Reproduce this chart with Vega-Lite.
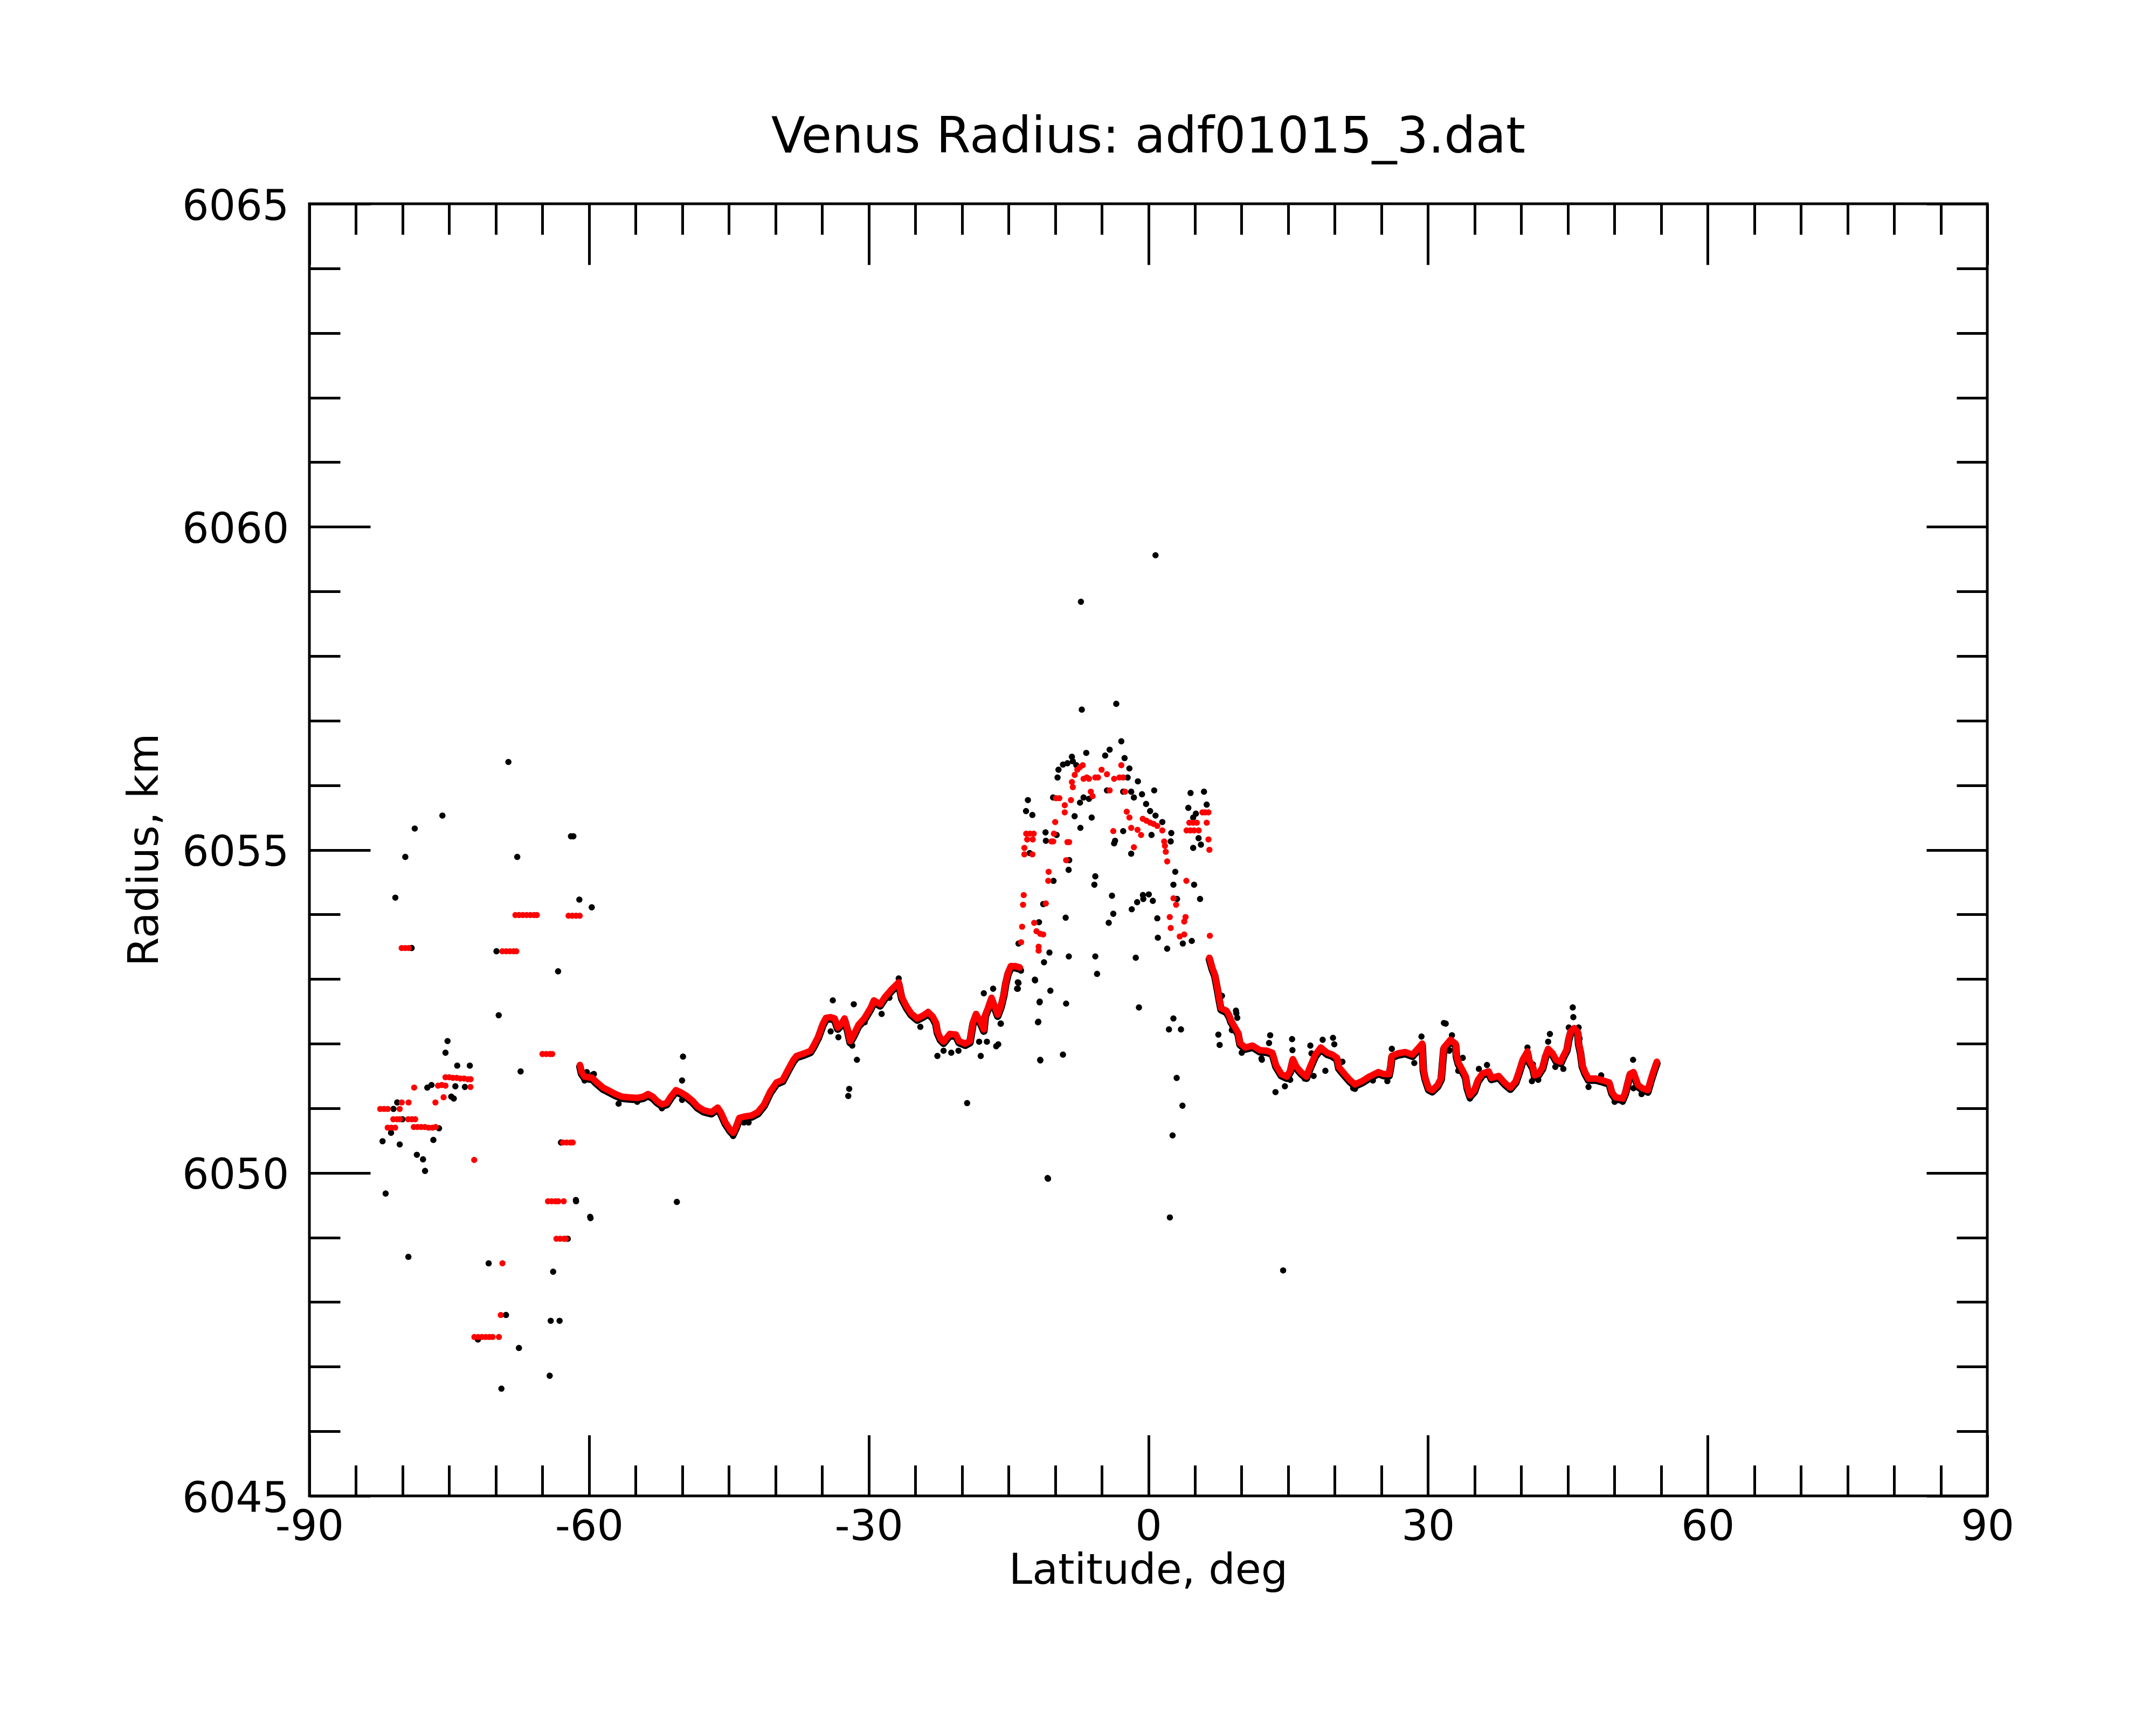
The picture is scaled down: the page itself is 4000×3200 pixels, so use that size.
{
  "$schema": "https://vega.github.io/schema/vega-lite/v6.json",
  "autosize": "none",
  "width": 3113,
  "height": 2397,
  "padding": {"left": 574, "top": 378, "right": 313, "bottom": 425},
  "background": "white",
  "title": {
    "text": "Venus Radius: adf01015_3.dat",
    "font": "DejaVu Sans",
    "fontSize": 92,
    "fontWeight": "normal",
    "color": "black",
    "anchor": "middle",
    "frame": "group",
    "baseline": "alphabetic",
    "offset": -30
  },
  "datasets": {
    "raw": [
      {"lat": -68.65, "r": 6056.36}, {"lat": -75.73, "r": 6055.53}, {"lat": -78.70, "r": 6055.33},
      {"lat": -79.71, "r": 6054.89}, {"lat": -67.70, "r": 6054.89}, {"lat": -80.78, "r": 6054.26},
      {"lat": -61.68, "r": 6055.21}, {"lat": -61.94, "r": 6055.21}, {"lat": -61.04, "r": 6054.23},
      {"lat": -59.71, "r": 6054.11}, {"lat": -79.03, "r": 6053.48}, {"lat": -63.32, "r": 6053.12},
      {"lat": -69.69, "r": 6052.44}, {"lat": -75.18, "r": 6052.04}, {"lat": -75.40, "r": 6051.86},
      {"lat": -74.14, "r": 6051.66}, {"lat": -72.79, "r": 6051.66}, {"lat": -67.34, "r": 6051.57},
      {"lat": -77.35, "r": 6051.32}, {"lat": -76.90, "r": 6051.36}, {"lat": -74.34, "r": 6051.34},
      {"lat": -73.32, "r": 6051.33}, {"lat": -74.78, "r": 6051.18}, {"lat": -74.51, "r": 6051.15},
      {"lat": -80.58, "r": 6051.09}, {"lat": -80.98, "r": 6050.99}, {"lat": -80.02, "r": 6050.83},
      {"lat": -81.24, "r": 6050.62}, {"lat": -82.15, "r": 6050.49}, {"lat": -80.31, "r": 6050.44},
      {"lat": -76.09, "r": 6050.69}, {"lat": -76.70, "r": 6050.51}, {"lat": -78.47, "r": 6050.28},
      {"lat": -77.81, "r": 6050.21}, {"lat": -77.59, "r": 6050.03}, {"lat": -81.82, "r": 6049.68},
      {"lat": -61.39, "r": 6049.56}, {"lat": -59.84, "r": 6049.30}, {"lat": -62.28, "r": 6048.98},
      {"lat": -79.38, "r": 6048.70}, {"lat": -70.77, "r": 6048.60}, {"lat": -63.85, "r": 6048.47},
      {"lat": -68.91, "r": 6047.80}, {"lat": -64.11, "r": 6047.71}, {"lat": -63.16, "r": 6047.71},
      {"lat": -71.92, "r": 6047.42}, {"lat": -67.52, "r": 6047.29}, {"lat": -64.22, "r": 6046.86},
      {"lat": -69.40, "r": 6046.66}, {"lat": -63.01, "r": 6050.47}, {"lat": -69.93, "r": 6053.43},
      {"lat": -60.24, "r": 6051.56}, {"lat": -59.62, "r": 6051.52}, {"lat": -60.44, "r": 6051.44},
      {"lat": -49.92, "r": 6051.80}, {"lat": -50.02, "r": 6051.43}, {"lat": -33.85, "r": 6052.67},
      {"lat": -31.60, "r": 6052.61}, {"lat": -34.08, "r": 6052.19}, {"lat": -33.25, "r": 6052.10},
      {"lat": -31.76, "r": 6051.97}, {"lat": -31.26, "r": 6051.75}, {"lat": -32.09, "r": 6051.30},
      {"lat": -32.19, "r": 6051.19}, {"lat": -28.61, "r": 6052.46}, {"lat": -27.78, "r": 6052.71},
      {"lat": -24.46, "r": 6052.26}, {"lat": -22.63, "r": 6051.81}, {"lat": -21.97, "r": 6051.89},
      {"lat": -21.14, "r": 6051.86}, {"lat": -20.37, "r": 6051.89}, {"lat": -19.44, "r": 6051.08},
      {"lat": -17.98, "r": 6051.81}, {"lat": -18.15, "r": 6052.03}, {"lat": -17.32, "r": 6052.03},
      {"lat": -16.32, "r": 6051.96}, {"lat": -17.65, "r": 6052.78}, {"lat": -16.65, "r": 6052.85},
      {"lat": -15.82, "r": 6052.31}, {"lat": -14.00, "r": 6052.85}, {"lat": -14.00, "r": 6052.95},
      {"lat": -12.17, "r": 6052.99}, {"lat": -11.67, "r": 6052.64}, {"lat": -11.84, "r": 6052.33},
      {"lat": -11.60, "r": 6051.75}, {"lat": -10.81, "r": 6049.92}, {"lat": -50.58, "r": 6049.55},
      {"lat": -61.41, "r": 6049.58}, {"lat": -59.88, "r": 6049.32},
      {"lat": -56.83, "r": 6051.07}, {"lat": -54.83, "r": 6051.10}, {"lat": -52.18, "r": 6051.00},
      {"lat": -50.02, "r": 6051.13}, {"lat": -47.36, "r": 6050.92}, {"lat": -42.88, "r": 6050.78},
      {"lat": -43.38, "r": 6050.78}, {"lat": -60.48, "r": 6051.43}, {"lat": -59.48, "r": 6051.53},
      {"lat": -44.54, "r": 6050.57}, {"lat": -30.43, "r": 6052.33}, {"lat": -26.78, "r": 6053.01},
      {"lat": 0.77, "r": 6059.56}, {"lat": -7.23, "r": 6058.84}, {"lat": -7.14, "r": 6057.17},
      {"lat": -3.44, "r": 6057.26}, {"lat": -2.90, "r": 6056.68}, {"lat": -4.15, "r": 6056.55},
      {"lat": -4.63, "r": 6056.46}, {"lat": -6.66, "r": 6056.50}, {"lat": -8.20, "r": 6056.44},
      {"lat": -8.10, "r": 6056.37}, {"lat": -9.16, "r": 6056.32}, {"lat": -8.68, "r": 6056.34},
      {"lat": -9.64, "r": 6056.24}, {"lat": -9.74, "r": 6056.12}, {"lat": -7.72, "r": 6056.31},
      {"lat": -2.55, "r": 6056.42}, {"lat": -2.03, "r": 6056.26}, {"lat": -2.22, "r": 6056.12},
      {"lat": -1.12, "r": 6056.06}, {"lat": 0.63, "r": 6055.92}, {"lat": -12.92, "r": 6055.77},
      {"lat": -13.12, "r": 6055.60}, {"lat": -12.44, "r": 6055.54}, {"lat": -10.22, "r": 6055.81},
      {"lat": -7.33, "r": 6055.73}, {"lat": -7.91, "r": 6055.52}, {"lat": -7.29, "r": 6055.34},
      {"lat": -6.08, "r": 6055.50}, {"lat": -6.37, "r": 6055.79}, {"lat": -6.95, "r": 6055.81},
      {"lat": -4.44, "r": 6055.92}, {"lat": -2.70, "r": 6055.90}, {"lat": -1.84, "r": 6055.90},
      {"lat": -1.55, "r": 6055.81}, {"lat": -0.68, "r": 6055.86}, {"lat": -0.24, "r": 6055.71},
      {"lat": 0.19, "r": 6055.60}, {"lat": 0.77, "r": 6055.53}, {"lat": 1.50, "r": 6055.43},
      {"lat": 2.46, "r": 6055.26}, {"lat": 2.40, "r": 6055.13}, {"lat": 0.34, "r": 6055.23},
      {"lat": -2.70, "r": 6055.29}, {"lat": -3.57, "r": 6055.14}, {"lat": -3.67, "r": 6055.10},
      {"lat": -1.84, "r": 6054.94}, {"lat": -11.03, "r": 6055.27}, {"lat": -10.99, "r": 6055.14},
      {"lat": -9.84, "r": 6055.23}, {"lat": -12.73, "r": 6054.95}, {"lat": -8.49, "r": 6054.84},
      {"lat": -8.55, "r": 6054.69}, {"lat": -10.17, "r": 6054.52}, {"lat": -11.28, "r": 6054.16},
      {"lat": -11.73, "r": 6053.88}, {"lat": -13.93, "r": 6053.55}, {"lat": -14.08, "r": 6052.85},
      {"lat": -13.93, "r": 6052.94}, {"lat": -13.66, "r": 6053.13}, {"lat": -12.15, "r": 6052.98},
      {"lat": -11.19, "r": 6053.26}, {"lat": -10.61, "r": 6053.41}, {"lat": -11.65, "r": 6052.65},
      {"lat": -10.51, "r": 6052.82}, {"lat": -11.80, "r": 6052.34}, {"lat": -11.59, "r": 6051.74},
      {"lat": -9.16, "r": 6051.83}, {"lat": -8.82, "r": 6052.62}, {"lat": -8.87, "r": 6053.95},
      {"lat": -8.53, "r": 6053.35}, {"lat": -5.69, "r": 6054.59}, {"lat": -5.79, "r": 6054.46},
      {"lat": -5.69, "r": 6053.35}, {"lat": -5.50, "r": 6053.08}, {"lat": -3.90, "r": 6054.29},
      {"lat": -3.76, "r": 6054.01}, {"lat": -4.25, "r": 6053.87}, {"lat": -1.78, "r": 6054.08},
      {"lat": -1.20, "r": 6054.19}, {"lat": -0.58, "r": 6054.30}, {"lat": -0.54, "r": 6054.24},
      {"lat": 0.05, "r": 6054.31}, {"lat": 0.48, "r": 6054.21}, {"lat": -1.35, "r": 6053.33},
      {"lat": -1.01, "r": 6052.56}, {"lat": 0.96, "r": 6053.94}, {"lat": 1.02, "r": 6053.64},
      {"lat": 2.02, "r": 6053.47}, {"lat": 2.89, "r": 6054.66}, {"lat": 2.69, "r": 6054.46},
      {"lat": 3.08, "r": 6054.24}, {"lat": 3.70, "r": 6053.55}, {"lat": 4.66, "r": 6053.59},
      {"lat": 4.91, "r": 6054.46}, {"lat": 5.55, "r": 6054.24}, {"lat": 4.53, "r": 6055.88},
      {"lat": 4.29, "r": 6055.65}, {"lat": 5.97, "r": 6055.90}, {"lat": 6.26, "r": 6055.70},
      {"lat": 5.10, "r": 6055.56}, {"lat": 4.81, "r": 6055.50}, {"lat": 5.39, "r": 6055.18},
      {"lat": 5.64, "r": 6055.08}, {"lat": 4.81, "r": 6055.03}, {"lat": 2.69, "r": 6052.39},
      {"lat": 2.21, "r": 6052.22}, {"lat": 3.50, "r": 6052.22}, {"lat": 3.04, "r": 6051.47},
      {"lat": 3.66, "r": 6051.04}, {"lat": 2.60, "r": 6050.58}, {"lat": 2.31, "r": 6049.31},
      {"lat": -10.76, "r": 6049.91}, {"lat": -15.85, "r": 6052.31}, {"lat": -16.10, "r": 6051.99},
      {"lat": 7.51, "r": 6052.14}, {"lat": 7.65, "r": 6051.98}, {"lat": 9.44, "r": 6052.47},
      {"lat": 8.96, "r": 6052.21}, {"lat": 7.90, "r": 6052.74}, {"lat": 12.14, "r": 6051.77},
      {"lat": 10.02, "r": 6051.86}, {"lat": 9.40, "r": 6052.51}, {"lat": 9.54, "r": 6052.40},
      {"lat": 13.07, "r": 6052.13}, {"lat": 12.95, "r": 6052.01}, {"lat": 12.18, "r": 6051.75},
      {"lat": 15.42, "r": 6052.07}, {"lat": 15.46, "r": 6051.90}, {"lat": 13.64, "r": 6051.25},
      {"lat": 14.65, "r": 6051.34}, {"lat": 17.38, "r": 6051.97}, {"lat": 17.50, "r": 6051.85},
      {"lat": 17.73, "r": 6051.50}, {"lat": 18.70, "r": 6052.06}, {"lat": 19.81, "r": 6052.09},
      {"lat": 19.95, "r": 6051.99}, {"lat": 18.99, "r": 6051.58}, {"lat": 20.82, "r": 6051.72},
      {"lat": 29.30, "r": 6052.11}, {"lat": 31.71, "r": 6052.32}, {"lat": 32.29, "r": 6051.90},
      {"lat": 28.53, "r": 6051.70}, {"lat": 25.64, "r": 6051.42}, {"lat": 21.97, "r": 6051.31},
      {"lat": 26.12, "r": 6051.92}, {"lat": 15.22, "r": 6051.44}, {"lat": 16.77, "r": 6051.46},
      {"lat": 22.17, "r": 6051.30}, {"lat": 24.09, "r": 6051.43}, {"lat": 14.46, "r": 6048.49},
      {"lat": 31.90, "r": 6052.31}, {"lat": 32.57, "r": 6052.13}, {"lat": 32.28, "r": 6051.89},
      {"lat": 33.73, "r": 6051.78}, {"lat": 33.25, "r": 6051.58}, {"lat": 35.46, "r": 6051.61},
      {"lat": 36.33, "r": 6051.67}, {"lat": 40.67, "r": 6051.94}, {"lat": 41.25, "r": 6051.68},
      {"lat": 41.15, "r": 6051.42}, {"lat": 41.83, "r": 6051.44}, {"lat": 43.08, "r": 6052.15},
      {"lat": 42.89, "r": 6052.03}, {"lat": 43.66, "r": 6051.64}, {"lat": 44.52, "r": 6051.61},
      {"lat": 45.53, "r": 6052.56}, {"lat": 45.59, "r": 6052.41}, {"lat": 45.10, "r": 6052.25},
      {"lat": 46.16, "r": 6052.25}, {"lat": 46.26, "r": 6052.08}, {"lat": 47.22, "r": 6051.33},
      {"lat": 48.58, "r": 6051.51}, {"lat": 52.00, "r": 6051.75}, {"lat": 52.04, "r": 6051.31},
      {"lat": 52.91, "r": 6051.22}, {"lat": 53.60, "r": 6051.24}, {"lat": 50.02, "r": 6051.10},
      {"lat": 50.89, "r": 6051.10}, {"lat": 34.50, "r": 6051.15}
    ],
    "fit": [
      {"lat": -67.9, "r": 6053.99, "seg": "s"}, {"lat": -67.5, "r": 6053.99, "seg": "s"}, {"lat": -67.1, "r": 6053.99, "seg": "s"},
      {"lat": -66.7, "r": 6053.99, "seg": "s"}, {"lat": -66.3, "r": 6053.99, "seg": "s"}, {"lat": -65.9, "r": 6053.99, "seg": "s"},
      {"lat": -65.6, "r": 6053.99, "seg": "s"},
      {"lat": -62.2, "r": 6053.98, "seg": "s"}, {"lat": -61.8, "r": 6053.98, "seg": "s"}, {"lat": -61.4, "r": 6053.98, "seg": "s"},
      {"lat": -61.0, "r": 6053.98, "seg": "s"},
      {"lat": -69.3, "r": 6053.43, "seg": "s"}, {"lat": -68.9, "r": 6053.43, "seg": "s"}, {"lat": -68.5, "r": 6053.43, "seg": "s"},
      {"lat": -68.1, "r": 6053.43, "seg": "s"}, {"lat": -67.8, "r": 6053.43, "seg": "s"},
      {"lat": -80.1, "r": 6053.48, "seg": "s"}, {"lat": -79.7, "r": 6053.48, "seg": "s"}, {"lat": -79.35, "r": 6053.48, "seg": "s"},
      {"lat": -65.0, "r": 6051.84, "seg": "s"}, {"lat": -64.6, "r": 6051.84, "seg": "s"}, {"lat": -64.2, "r": 6051.84, "seg": "s"},
      {"lat": -63.95, "r": 6051.84, "seg": "s"},
      {"lat": -78.76, "r": 6051.32, "seg": "s"},
      {"lat": -75.4, "r": 6051.48, "seg": "s"}, {"lat": -75.0, "r": 6051.48, "seg": "s"}, {"lat": -74.6, "r": 6051.47, "seg": "s"},
      {"lat": -74.2, "r": 6051.47, "seg": "s"}, {"lat": -73.8, "r": 6051.46, "seg": "s"}, {"lat": -73.4, "r": 6051.46, "seg": "s"},
      {"lat": -73.0, "r": 6051.45, "seg": "s"}, {"lat": -72.7, "r": 6051.45, "seg": "s"},
      {"lat": -76.2, "r": 6051.35, "seg": "s"}, {"lat": -75.8, "r": 6051.36, "seg": "s"}, {"lat": -75.4, "r": 6051.35, "seg": "s"},
      {"lat": -75.6, "r": 6051.17, "seg": "s"}, {"lat": -76.48, "r": 6051.09, "seg": "s"}, {"lat": -72.72, "r": 6051.33, "seg": "s"},
      {"lat": -80.09, "r": 6051.09, "seg": "s"}, {"lat": -79.36, "r": 6051.09, "seg": "s"},
      {"lat": -82.4, "r": 6050.99, "seg": "s"}, {"lat": -82.0, "r": 6050.99, "seg": "s"}, {"lat": -81.6, "r": 6050.99, "seg": "s"},
      {"lat": -80.31, "r": 6050.99, "seg": "s"},
      {"lat": -81.0, "r": 6050.83, "seg": "s"}, {"lat": -80.6, "r": 6050.83, "seg": "s"}, {"lat": -80.3, "r": 6050.83, "seg": "s"},
      {"lat": -79.4, "r": 6050.83, "seg": "s"}, {"lat": -79.0, "r": 6050.83, "seg": "s"}, {"lat": -78.65, "r": 6050.83, "seg": "s"},
      {"lat": -81.6, "r": 6050.70, "seg": "s"}, {"lat": -81.2, "r": 6050.70, "seg": "s"}, {"lat": -80.8, "r": 6050.70, "seg": "s"},
      {"lat": -78.8, "r": 6050.71, "seg": "s"}, {"lat": -78.4, "r": 6050.71, "seg": "s"}, {"lat": -78.0, "r": 6050.71, "seg": "s"},
      {"lat": -77.6, "r": 6050.71, "seg": "s"}, {"lat": -77.2, "r": 6050.70, "seg": "s"}, {"lat": -76.8, "r": 6050.70, "seg": "s"},
      {"lat": -76.45, "r": 6050.71, "seg": "s"},
      {"lat": -72.32, "r": 6050.20, "seg": "s"},
      {"lat": -64.4, "r": 6049.56, "seg": "s"}, {"lat": -64.0, "r": 6049.56, "seg": "s"}, {"lat": -63.6, "r": 6049.56, "seg": "s"},
      {"lat": -63.3, "r": 6049.56, "seg": "s"}, {"lat": -62.72, "r": 6049.56, "seg": "s"},
      {"lat": -63.5, "r": 6048.98, "seg": "s"}, {"lat": -63.1, "r": 6048.98, "seg": "s"}, {"lat": -62.7, "r": 6048.98, "seg": "s"},
      {"lat": -62.5, "r": 6048.98, "seg": "s"},
      {"lat": -69.29, "r": 6048.60, "seg": "s"}, {"lat": -69.47, "r": 6047.80, "seg": "s"},
      {"lat": -72.3, "r": 6047.46, "seg": "s"}, {"lat": -71.9, "r": 6047.46, "seg": "s"}, {"lat": -71.5, "r": 6047.46, "seg": "s"},
      {"lat": -71.1, "r": 6047.46, "seg": "s"}, {"lat": -70.7, "r": 6047.46, "seg": "s"}, {"lat": -70.35, "r": 6047.46, "seg": "s"},
      {"lat": -69.67, "r": 6047.46, "seg": "s"},
      {"lat": -62.8, "r": 6050.47, "seg": "s"}, {"lat": -62.4, "r": 6050.47, "seg": "s"}, {"lat": -62.0, "r": 6050.47, "seg": "s"},
      {"lat": -61.75, "r": 6050.47, "seg": "s"},

      {"lat": -60.98, "r": 6051.67, "seg": "A"}, {"lat": -60.81, "r": 6051.56, "seg": "A"}, {"lat": -60.48, "r": 6051.49, "seg": "A"},
      {"lat": -59.65, "r": 6051.47, "seg": "A"}, {"lat": -59.15, "r": 6051.40, "seg": "A"}, {"lat": -58.49, "r": 6051.32, "seg": "A"},
      {"lat": -57.82, "r": 6051.27, "seg": "A"}, {"lat": -57.16, "r": 6051.22, "seg": "A"}, {"lat": -56.49, "r": 6051.18, "seg": "A"},
      {"lat": -55.83, "r": 6051.17, "seg": "A"}, {"lat": -54.83, "r": 6051.16, "seg": "A"}, {"lat": -54.17, "r": 6051.18, "seg": "A"},
      {"lat": -53.67, "r": 6051.22, "seg": "A"}, {"lat": -53.17, "r": 6051.18, "seg": "A"}, {"lat": -52.68, "r": 6051.11, "seg": "A"},
      {"lat": -52.18, "r": 6051.06, "seg": "A"}, {"lat": -51.68, "r": 6051.08, "seg": "A"}, {"lat": -51.18, "r": 6051.19, "seg": "A"},
      {"lat": -50.68, "r": 6051.28, "seg": "A"}, {"lat": -50.19, "r": 6051.25, "seg": "A"}, {"lat": -49.52, "r": 6051.19, "seg": "A"},
      {"lat": -48.86, "r": 6051.11, "seg": "A"}, {"lat": -48.36, "r": 6051.03, "seg": "A"}, {"lat": -47.70, "r": 6050.97, "seg": "A"},
      {"lat": -46.87, "r": 6050.94, "seg": "A"}, {"lat": -46.20, "r": 6051.01, "seg": "A"}, {"lat": -45.87, "r": 6050.94, "seg": "A"},
      {"lat": -45.37, "r": 6050.78, "seg": "A"}, {"lat": -44.87, "r": 6050.67, "seg": "A"}, {"lat": -44.54, "r": 6050.62, "seg": "A"},
      {"lat": -44.21, "r": 6050.72, "seg": "A"}, {"lat": -43.88, "r": 6050.85, "seg": "A"}, {"lat": -43.38, "r": 6050.87, "seg": "A"},
      {"lat": -42.55, "r": 6050.89, "seg": "A"}, {"lat": -41.89, "r": 6050.94, "seg": "A"}, {"lat": -41.22, "r": 6051.06, "seg": "A"},
      {"lat": -40.56, "r": 6051.26, "seg": "A"}, {"lat": -39.89, "r": 6051.40, "seg": "A"}, {"lat": -39.23, "r": 6051.44, "seg": "A"},
      {"lat": -38.57, "r": 6051.62, "seg": "A"}, {"lat": -38.07, "r": 6051.75, "seg": "A"}, {"lat": -37.74, "r": 6051.81, "seg": "A"},
      {"lat": -36.91, "r": 6051.85, "seg": "A"}, {"lat": -36.24, "r": 6051.89, "seg": "A"}, {"lat": -35.91, "r": 6051.97, "seg": "A"},
      {"lat": -35.41, "r": 6052.11, "seg": "A"}, {"lat": -34.91, "r": 6052.31, "seg": "A"}, {"lat": -34.58, "r": 6052.40, "seg": "A"},
      {"lat": -34.08, "r": 6052.41, "seg": "A"}, {"lat": -33.65, "r": 6052.39, "seg": "A"}, {"lat": -33.32, "r": 6052.25, "seg": "A"},
      {"lat": -32.92, "r": 6052.31, "seg": "A"}, {"lat": -32.59, "r": 6052.39, "seg": "A"}, {"lat": -32.26, "r": 6052.22, "seg": "A"},
      {"lat": -31.99, "r": 6052.04, "seg": "A"}, {"lat": -31.60, "r": 6052.14, "seg": "A"}, {"lat": -31.10, "r": 6052.29, "seg": "A"},
      {"lat": -30.43, "r": 6052.40, "seg": "A"}, {"lat": -29.77, "r": 6052.56, "seg": "A"}, {"lat": -29.44, "r": 6052.67, "seg": "A"},
      {"lat": -28.77, "r": 6052.61, "seg": "A"}, {"lat": -28.27, "r": 6052.72, "seg": "A"}, {"lat": -27.61, "r": 6052.83, "seg": "A"},
      {"lat": -26.78, "r": 6052.95, "seg": "A"}, {"lat": -26.45, "r": 6052.72, "seg": "A"}, {"lat": -25.95, "r": 6052.58, "seg": "A"},
      {"lat": -25.45, "r": 6052.47, "seg": "A"}, {"lat": -24.79, "r": 6052.39, "seg": "A"}, {"lat": -24.12, "r": 6052.44, "seg": "A"},
      {"lat": -23.63, "r": 6052.49, "seg": "A"}, {"lat": -23.13, "r": 6052.42, "seg": "A"}, {"lat": -22.80, "r": 6052.33, "seg": "A"},
      {"lat": -22.63, "r": 6052.19, "seg": "A"}, {"lat": -22.30, "r": 6052.08, "seg": "A"}, {"lat": -21.97, "r": 6052.03, "seg": "A"},
      {"lat": -21.30, "r": 6052.15, "seg": "A"}, {"lat": -20.64, "r": 6052.14, "seg": "A"}, {"lat": -20.31, "r": 6052.04, "seg": "A"},
      {"lat": -19.64, "r": 6052.00, "seg": "A"}, {"lat": -19.14, "r": 6052.04, "seg": "A"}, {"lat": -18.81, "r": 6052.33, "seg": "A"},
      {"lat": -18.48, "r": 6052.46, "seg": "A"}, {"lat": -17.98, "r": 6052.33, "seg": "A"}, {"lat": -17.65, "r": 6052.22, "seg": "A"},
      {"lat": -17.48, "r": 6052.45, "seg": "A"}, {"lat": -17.15, "r": 6052.57, "seg": "A"}, {"lat": -16.82, "r": 6052.71, "seg": "A"},
      {"lat": -16.49, "r": 6052.58, "seg": "A"}, {"lat": -16.16, "r": 6052.45, "seg": "A"}, {"lat": -15.80, "r": 6052.59, "seg": "A"},
      {"lat": -15.50, "r": 6052.77, "seg": "A"}, {"lat": -15.30, "r": 6052.95, "seg": "A"}, {"lat": -15.05, "r": 6053.10, "seg": "A"},
      {"lat": -14.75, "r": 6053.20, "seg": "A"}, {"lat": -14.27, "r": 6053.20, "seg": "A"}, {"lat": -13.80, "r": 6053.18, "seg": "A"},

      {"lat": -13.54, "r": 6053.81, "seg": "s"}, {"lat": -13.65, "r": 6053.57, "seg": "s"}, {"lat": -13.44, "r": 6054.15, "seg": "s"},
      {"lat": -13.37, "r": 6054.30, "seg": "s"}, {"lat": -13.10, "r": 6055.25, "seg": "s"}, {"lat": -12.70, "r": 6055.25, "seg": "s"},
      {"lat": -12.30, "r": 6055.25, "seg": "s"}, {"lat": -13.00, "r": 6055.16, "seg": "s"}, {"lat": -12.40, "r": 6055.16, "seg": "s"},
      {"lat": -13.30, "r": 6055.03, "seg": "s"}, {"lat": -13.30, "r": 6054.93, "seg": "s"}, {"lat": -12.44, "r": 6054.93, "seg": "s"},
      {"lat": -10.70, "r": 6054.66, "seg": "s"}, {"lat": -10.74, "r": 6054.52, "seg": "s"}, {"lat": -11.00, "r": 6054.17, "seg": "s"},
      {"lat": -12.25, "r": 6053.87, "seg": "s"}, {"lat": -12.00, "r": 6053.74, "seg": "s"}, {"lat": -11.28, "r": 6053.69, "seg": "s"},
      {"lat": -11.60, "r": 6053.70, "seg": "s"}, {"lat": -11.77, "r": 6053.50, "seg": "s"}, {"lat": -11.77, "r": 6053.44, "seg": "s"},
      {"lat": -9.99, "r": 6055.43, "seg": "s"}, {"lat": -10.13, "r": 6055.25, "seg": "s"}, {"lat": -10.40, "r": 6055.13, "seg": "s"},
      {"lat": -10.20, "r": 6055.13, "seg": "s"}, {"lat": -9.55, "r": 6055.80, "seg": "s"}, {"lat": -9.90, "r": 6055.80, "seg": "s"},
      {"lat": -8.97, "r": 6055.69, "seg": "s"}, {"lat": -8.97, "r": 6055.58, "seg": "s"}, {"lat": -8.68, "r": 6055.12, "seg": "s"},
      {"lat": -8.50, "r": 6055.12, "seg": "s"}, {"lat": -8.30, "r": 6055.77, "seg": "s"}, {"lat": -8.82, "r": 6054.84, "seg": "s"},
      {"lat": -8.20, "r": 6056.05, "seg": "s"}, {"lat": -8.10, "r": 6055.97, "seg": "s"}, {"lat": -7.90, "r": 6056.16, "seg": "s"},
      {"lat": -7.62, "r": 6056.24, "seg": "s"}, {"lat": -7.33, "r": 6056.28, "seg": "s"}, {"lat": -7.04, "r": 6056.31, "seg": "s"},
      {"lat": -6.95, "r": 6056.10, "seg": "s"}, {"lat": -6.60, "r": 6056.12, "seg": "s"}, {"lat": -6.37, "r": 6056.10, "seg": "s"},
      {"lat": -5.69, "r": 6056.12, "seg": "s"}, {"lat": -5.40, "r": 6056.12, "seg": "s"}, {"lat": -5.02, "r": 6056.24, "seg": "s"},
      {"lat": -4.44, "r": 6056.17, "seg": "s"}, {"lat": -3.67, "r": 6056.10, "seg": "s"}, {"lat": -3.10, "r": 6056.12, "seg": "s"},
      {"lat": -2.70, "r": 6056.12, "seg": "s"}, {"lat": -6.17, "r": 6055.90, "seg": "s"}, {"lat": -5.98, "r": 6055.83, "seg": "s"},
      {"lat": -4.15, "r": 6055.92, "seg": "s"}, {"lat": -2.90, "r": 6056.31, "seg": "s"}, {"lat": -2.50, "r": 6055.90, "seg": "s"},
      {"lat": -3.76, "r": 6055.29, "seg": "s"}, {"lat": -2.32, "r": 6055.59, "seg": "s"}, {"lat": -2.03, "r": 6055.50, "seg": "s"},
      {"lat": -1.84, "r": 6055.34, "seg": "s"}, {"lat": -1.16, "r": 6055.31, "seg": "s"}, {"lat": -0.78, "r": 6055.23, "seg": "s"},
      {"lat": -0.60, "r": 6055.48, "seg": "s"}, {"lat": -0.20, "r": 6055.45, "seg": "s"}, {"lat": 0.20, "r": 6055.42, "seg": "s"},
      {"lat": 0.57, "r": 6055.40, "seg": "s"}, {"lat": 0.96, "r": 6055.37, "seg": "s"}, {"lat": 1.50, "r": 6055.30, "seg": "s"},
      {"lat": 1.70, "r": 6055.13, "seg": "s"}, {"lat": 1.78, "r": 6055.06, "seg": "s"}, {"lat": 1.87, "r": 6054.97, "seg": "s"},
      {"lat": 2.02, "r": 6054.82, "seg": "s"}, {"lat": -1.55, "r": 6055.04, "seg": "s"}, {"lat": 2.70, "r": 6054.25, "seg": "s"},
      {"lat": 2.98, "r": 6054.15, "seg": "s"}, {"lat": 2.30, "r": 6053.96, "seg": "s"}, {"lat": 2.40, "r": 6053.79, "seg": "s"},
      {"lat": 3.37, "r": 6053.66, "seg": "s"}, {"lat": 3.85, "r": 6053.69, "seg": "s"}, {"lat": 3.85, "r": 6053.89, "seg": "s"},
      {"lat": 3.99, "r": 6053.96, "seg": "s"}, {"lat": 4.08, "r": 6054.52, "seg": "s"}, {"lat": 4.10, "r": 6055.30, "seg": "s"},
      {"lat": 4.50, "r": 6055.30, "seg": "s"}, {"lat": 4.90, "r": 6055.30, "seg": "s"}, {"lat": 5.40, "r": 6055.30, "seg": "s"},
      {"lat": 4.40, "r": 6055.42, "seg": "s"}, {"lat": 4.80, "r": 6055.42, "seg": "s"}, {"lat": 5.20, "r": 6055.42, "seg": "s"},
      {"lat": 5.80, "r": 6055.58, "seg": "s"}, {"lat": 6.10, "r": 6055.58, "seg": "s"}, {"lat": 6.45, "r": 6055.58, "seg": "s"},
      {"lat": 6.26, "r": 6055.42, "seg": "s"}, {"lat": 6.45, "r": 6055.16, "seg": "s"}, {"lat": 6.55, "r": 6055.00, "seg": "s"},
      {"lat": 6.60, "r": 6053.67, "seg": "s"},

      {"lat": 6.55, "r": 6053.33, "seg": "B"}, {"lat": 6.84, "r": 6053.18, "seg": "B"}, {"lat": 7.13, "r": 6053.07, "seg": "B"},
      {"lat": 7.42, "r": 6052.85, "seg": "B"}, {"lat": 7.60, "r": 6052.70, "seg": "B"}, {"lat": 7.80, "r": 6052.55, "seg": "B"},
      {"lat": 8.38, "r": 6052.51, "seg": "B"}, {"lat": 8.67, "r": 6052.44, "seg": "B"}, {"lat": 8.86, "r": 6052.36, "seg": "B"},
      {"lat": 9.06, "r": 6052.31, "seg": "B"}, {"lat": 9.63, "r": 6052.17, "seg": "B"}, {"lat": 9.83, "r": 6052.01, "seg": "B"},
      {"lat": 10.40, "r": 6051.94, "seg": "B"}, {"lat": 11.18, "r": 6051.97, "seg": "B"}, {"lat": 11.95, "r": 6051.90, "seg": "B"},
      {"lat": 12.72, "r": 6051.89, "seg": "B"}, {"lat": 13.30, "r": 6051.86, "seg": "B"}, {"lat": 13.68, "r": 6051.67, "seg": "B"},
      {"lat": 14.26, "r": 6051.53, "seg": "B"}, {"lat": 14.84, "r": 6051.49, "seg": "B"}, {"lat": 15.22, "r": 6051.58, "seg": "B"},
      {"lat": 15.51, "r": 6051.76, "seg": "B"}, {"lat": 15.90, "r": 6051.64, "seg": "B"}, {"lat": 16.38, "r": 6051.56, "seg": "B"},
      {"lat": 16.96, "r": 6051.49, "seg": "B"}, {"lat": 17.35, "r": 6051.64, "seg": "B"}, {"lat": 17.92, "r": 6051.83, "seg": "B"},
      {"lat": 18.50, "r": 6051.94, "seg": "B"}, {"lat": 19.18, "r": 6051.86, "seg": "B"}, {"lat": 19.75, "r": 6051.83, "seg": "B"},
      {"lat": 20.24, "r": 6051.78, "seg": "B"}, {"lat": 20.43, "r": 6051.64, "seg": "B"}, {"lat": 21.00, "r": 6051.54, "seg": "B"},
      {"lat": 21.60, "r": 6051.44, "seg": "B"}, {"lat": 22.17, "r": 6051.37, "seg": "B"}, {"lat": 22.94, "r": 6051.42, "seg": "B"},
      {"lat": 23.70, "r": 6051.49, "seg": "B"}, {"lat": 24.67, "r": 6051.56, "seg": "B"}, {"lat": 25.25, "r": 6051.53, "seg": "B"},
      {"lat": 25.83, "r": 6051.53, "seg": "B"}, {"lat": 26.02, "r": 6051.68, "seg": "B"}, {"lat": 26.12, "r": 6051.81, "seg": "B"},
      {"lat": 26.80, "r": 6051.85, "seg": "B"}, {"lat": 27.56, "r": 6051.87, "seg": "B"}, {"lat": 28.33, "r": 6051.83, "seg": "B"},
      {"lat": 28.90, "r": 6051.92, "seg": "B"}, {"lat": 29.38, "r": 6052.00, "seg": "B"}, {"lat": 29.45, "r": 6051.78, "seg": "B"},
      {"lat": 29.50, "r": 6051.61, "seg": "B"}, {"lat": 29.70, "r": 6051.47, "seg": "B"}, {"lat": 30.07, "r": 6051.31, "seg": "B"},
      {"lat": 30.46, "r": 6051.28, "seg": "B"}, {"lat": 31.03, "r": 6051.36, "seg": "B"}, {"lat": 31.42, "r": 6051.47, "seg": "B"},
      {"lat": 31.57, "r": 6051.73, "seg": "B"}, {"lat": 31.70, "r": 6051.94, "seg": "B"}, {"lat": 32.40, "r": 6052.06, "seg": "B"},
      {"lat": 32.96, "r": 6052.00, "seg": "B"}, {"lat": 33.05, "r": 6051.82, "seg": "B"}, {"lat": 33.25, "r": 6051.71, "seg": "B"},
      {"lat": 33.63, "r": 6051.61, "seg": "B"}, {"lat": 34.02, "r": 6051.50, "seg": "B"}, {"lat": 34.21, "r": 6051.33, "seg": "B"},
      {"lat": 34.50, "r": 6051.20, "seg": "B"}, {"lat": 34.98, "r": 6051.28, "seg": "B"}, {"lat": 35.37, "r": 6051.44, "seg": "B"},
      {"lat": 35.85, "r": 6051.54, "seg": "B"}, {"lat": 36.52, "r": 6051.57, "seg": "B"}, {"lat": 36.81, "r": 6051.47, "seg": "B"},
      {"lat": 37.58, "r": 6051.50, "seg": "B"}, {"lat": 38.26, "r": 6051.39, "seg": "B"}, {"lat": 38.84, "r": 6051.32, "seg": "B"},
      {"lat": 39.42, "r": 6051.42, "seg": "B"}, {"lat": 39.80, "r": 6051.58, "seg": "B"}, {"lat": 40.19, "r": 6051.76, "seg": "B"},
      {"lat": 40.67, "r": 6051.88, "seg": "B"}, {"lat": 40.86, "r": 6051.74, "seg": "B"}, {"lat": 41.25, "r": 6051.64, "seg": "B"},
      {"lat": 41.44, "r": 6051.51, "seg": "B"}, {"lat": 41.83, "r": 6051.53, "seg": "B"}, {"lat": 42.31, "r": 6051.64, "seg": "B"},
      {"lat": 42.60, "r": 6051.81, "seg": "B"}, {"lat": 42.89, "r": 6051.92, "seg": "B"}, {"lat": 43.37, "r": 6051.85, "seg": "B"},
      {"lat": 43.75, "r": 6051.75, "seg": "B"}, {"lat": 44.24, "r": 6051.72, "seg": "B"}, {"lat": 44.52, "r": 6051.81, "seg": "B"},
      {"lat": 44.91, "r": 6051.92, "seg": "B"}, {"lat": 45.10, "r": 6052.08, "seg": "B"}, {"lat": 45.30, "r": 6052.19, "seg": "B"},
      {"lat": 45.68, "r": 6052.24, "seg": "B"}, {"lat": 46.07, "r": 6052.18, "seg": "B"}, {"lat": 46.16, "r": 6052.01, "seg": "B"},
      {"lat": 46.36, "r": 6051.88, "seg": "B"}, {"lat": 46.45, "r": 6051.78, "seg": "B"}, {"lat": 46.55, "r": 6051.67, "seg": "B"},
      {"lat": 46.84, "r": 6051.56, "seg": "B"}, {"lat": 47.22, "r": 6051.46, "seg": "B"}, {"lat": 48.00, "r": 6051.46, "seg": "B"},
      {"lat": 48.77, "r": 6051.43, "seg": "B"}, {"lat": 49.44, "r": 6051.40, "seg": "B"}, {"lat": 49.73, "r": 6051.25, "seg": "B"},
      {"lat": 50.12, "r": 6051.17, "seg": "B"}, {"lat": 50.89, "r": 6051.15, "seg": "B"}, {"lat": 51.18, "r": 6051.25, "seg": "B"},
      {"lat": 51.66, "r": 6051.53, "seg": "B"}, {"lat": 52.04, "r": 6051.56, "seg": "B"}, {"lat": 52.53, "r": 6051.36, "seg": "B"},
      {"lat": 53.00, "r": 6051.31, "seg": "B"}, {"lat": 53.59, "r": 6051.28, "seg": "B"}, {"lat": 53.97, "r": 6051.47, "seg": "B"},
      {"lat": 54.26, "r": 6051.60, "seg": "B"}, {"lat": 54.55, "r": 6051.72, "seg": "B"}
    ]
  },
  "resolve": {"axis": {"x": "independent", "y": "independent"}},
  "layer": [
    {
      "data": {"name": "fit"},
      "transform": [{"filter": "datum.seg != 's'"}],
      "mark": {"type": "line", "color": "black", "strokeWidth": 14, "yOffset": 3, "strokeCap": "round", "strokeJoin": "round"},
      "encoding": {
        "x": {
          "field": "lat", "type": "quantitative",
          "scale": {"domain": [-90, 90], "nice": false, "zero": false},
          "axis": {
            "orient": "bottom", "values": [-90, -60, -30, 0, 30, 60, 90],
            "domain": false, "grid": false,
            "tickSize": -113, "tickWidth": 5, "tickColor": "black",
            "labelFont": "DejaVu Sans", "labelFontSize": 78, "labelColor": "black", "labelLimit": 0,
            "labelBaseline": "alphabetic", "labelAlign": "center", "labelPadding": 194,
            "labelExpr": "'' + datum.value", "labelFlush": false, "labelOverlap": false, "labelBound": false,
            "title": "Latitude, deg", "titleFont": "DejaVu Sans", "titleFontSize": 78, "titleFontWeight": "normal",
            "titleColor": "black", "titleX": 1556, "titleY": 162, "titleBaseline": "alphabetic", "titleAlign": "center"
          }
        },
        "y": {
          "field": "r", "type": "quantitative",
          "scale": {"domain": [6045, 6065], "nice": false, "zero": false},
          "axis": {
            "orient": "left", "values": [6045, 6050, 6055, 6060, 6065],
            "domain": false, "grid": false,
            "tickSize": -113, "tickWidth": 5, "tickColor": "black",
            "labelFont": "DejaVu Sans", "labelFontSize": 78, "labelColor": "black", "labelLimit": 0,
            "labelBaseline": "middle", "labelAlign": "right", "labelPadding": 151, "labelOffset": 6,
            "labelExpr": "'' + datum.value", "labelFlush": false, "labelOverlap": false, "labelBound": false,
            "title": "Radius, km", "titleFont": "DejaVu Sans", "titleFontSize": 78, "titleFontWeight": "normal",
            "titleColor": "black", "titleX": -282, "titleY": 1198, "titleAngle": 270,
            "titleBaseline": "alphabetic", "titleAlign": "center"
          }
        },
        "detail": {"field": "seg"}
      }
    },
    {
      "data": {"name": "raw"},
      "mark": {"type": "circle", "color": "black", "opacity": 1, "size": 135},
      "encoding": {
        "x": {
          "field": "lat", "type": "quantitative",
          "scale": {"domain": [-90, 90], "nice": false, "zero": false},
          "axis": {
            "orient": "bottom",
            "values": [-85, -80, -75, -70, -65, -55, -50, -45, -40, -35, -25, -20, -15, -10, -5, 5, 10, 15, 20, 25, 35, 40, 45, 50, 55, 65, 70, 75, 80, 85],
            "domain": false, "grid": false, "labels": false, "title": null,
            "tickSize": -57, "tickWidth": 5, "tickColor": "black"
          }
        },
        "y": {
          "field": "r", "type": "quantitative",
          "scale": {"domain": [6045, 6065], "nice": false, "zero": false},
          "axis": {
            "orient": "left",
            "values": [6046, 6047, 6048, 6049, 6051, 6052, 6053, 6054, 6056, 6057, 6058, 6059, 6061, 6062, 6063, 6064],
            "domain": false, "grid": false, "labels": false, "title": null,
            "tickSize": -57, "tickWidth": 5, "tickColor": "black"
          }
        }
      }
    },
    {
      "data": {"name": "fit"},
      "transform": [{"filter": "datum.seg != 's'"}],
      "mark": {"type": "line", "color": "red", "strokeWidth": 12, "strokeCap": "round", "strokeJoin": "round"},
      "encoding": {
        "x": {
          "field": "lat", "type": "quantitative",
          "scale": {"domain": [-90, 90], "nice": false, "zero": false},
          "axis": {
            "orient": "top", "values": [-90, -60, -30, 0, 30, 60, 90],
            "domain": false, "grid": false, "labels": false, "title": null,
            "tickSize": -113, "tickWidth": 5, "tickColor": "black"
          }
        },
        "y": {
          "field": "r", "type": "quantitative",
          "scale": {"domain": [6045, 6065], "nice": false, "zero": false},
          "axis": {
            "orient": "right", "values": [6045, 6050, 6055, 6060, 6065],
            "domain": false, "grid": false, "labels": false, "title": null,
            "tickSize": -113, "tickWidth": 5, "tickColor": "black"
          }
        },
        "detail": {"field": "seg"}
      }
    },
    {
      "data": {"name": "fit"},
      "mark": {"type": "circle", "color": "red", "opacity": 1, "size": 130},
      "encoding": {
        "x": {
          "field": "lat", "type": "quantitative",
          "scale": {"domain": [-90, 90], "nice": false, "zero": false},
          "axis": {
            "orient": "top",
            "values": [-85, -80, -75, -70, -65, -55, -50, -45, -40, -35, -25, -20, -15, -10, -5, 5, 10, 15, 20, 25, 35, 40, 45, 50, 55, 65, 70, 75, 80, 85],
            "domain": false, "grid": false, "labels": false, "title": null,
            "tickSize": -57, "tickWidth": 5, "tickColor": "black"
          }
        },
        "y": {
          "field": "r", "type": "quantitative",
          "scale": {"domain": [6045, 6065], "nice": false, "zero": false},
          "axis": {
            "orient": "right",
            "values": [6046, 6047, 6048, 6049, 6051, 6052, 6053, 6054, 6056, 6057, 6058, 6059, 6061, 6062, 6063, 6064],
            "domain": false, "grid": false, "labels": false, "title": null,
            "tickSize": -57, "tickWidth": 5, "tickColor": "black"
          }
        }
      }
    }
  ],
  "config": {
    "font": "DejaVu Sans",
    "view": {"stroke": "black", "strokeWidth": 5},
    "axis": {"ticks": true}
  }
}
